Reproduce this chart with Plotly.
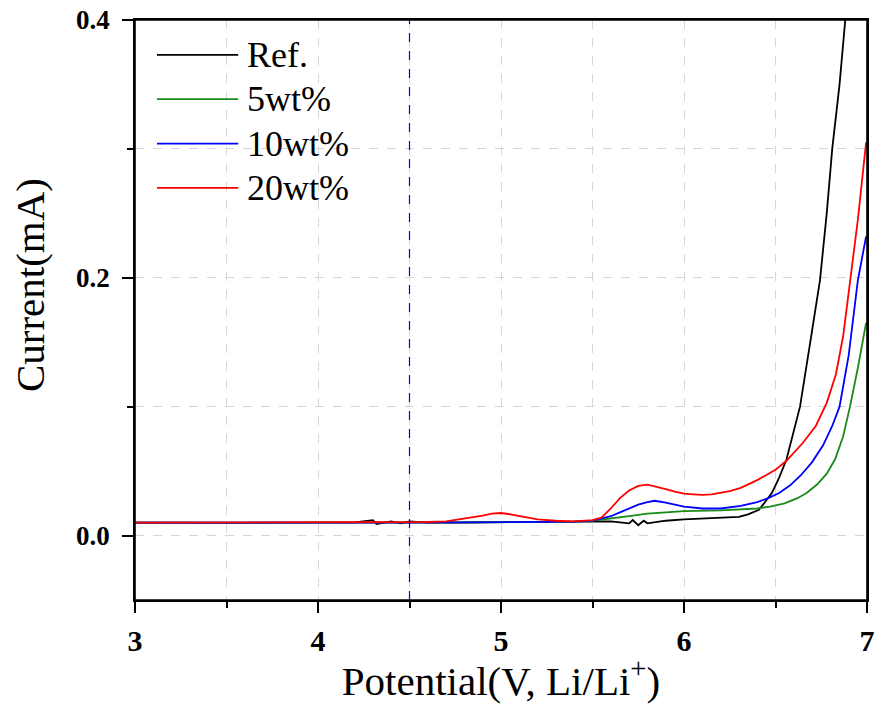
import plotly.graph_objects as go

# ---------------- data ----------------
series_names = ["Ref.", "5wt%", "10wt%", "20wt%"]
series_colors = ["#000000", "#1a8a1a", "#0000ff", "#ff0000"]

ref_v = [3.0, 3.2, 3.4, 3.6, 3.8, 4.0, 4.2, 4.3, 4.32, 4.4, 4.45, 4.5, 4.6, 4.8, 5.0, 5.2,
         5.4, 5.5, 5.6, 5.7, 5.72, 5.75, 5.78, 5.8, 5.85, 5.9, 6.0, 6.1, 6.2, 6.3, 6.35,
         6.41, 6.48, 6.52, 6.56, 6.6, 6.634, 6.69, 6.743, 6.78, 6.81, 6.85, 6.88, 6.9]
ref_i = [0.0100, 0.0098, 0.0101, 0.0099, 0.0100, 0.0099, 0.0102, 0.0120, 0.0090, 0.0110,
         0.0095, 0.0110, 0.0100, 0.0101, 0.0102, 0.0103, 0.0105, 0.0107, 0.0110, 0.0095,
         0.0120, 0.0080, 0.0115, 0.0095, 0.0105, 0.0115, 0.0125, 0.0130, 0.0135, 0.0145,
         0.0165, 0.0200, 0.0330, 0.0450, 0.0590, 0.0800, 0.1000, 0.1500, 0.1980, 0.2500,
         0.3000, 0.3500, 0.4000, 0.4300]

w5_v = [3.0, 3.3, 3.6, 3.9, 4.2, 4.5, 4.8, 5.1, 5.4, 5.5, 5.6, 5.7, 5.8, 5.9, 6.0, 6.2,
        6.3, 6.4, 6.47, 6.55, 6.62, 6.67, 6.73, 6.78, 6.825, 6.87, 6.907, 6.95, 6.995]
w5_i = [0.0100, 0.0099, 0.0101, 0.0100, 0.0100, 0.0101, 0.0102, 0.0104, 0.0108, 0.0115,
        0.0130, 0.0150, 0.0170, 0.0180, 0.0190, 0.0195, 0.0200, 0.0210, 0.0225, 0.0250,
        0.0290, 0.0330, 0.0400, 0.0480, 0.0590, 0.0770, 0.1000, 0.1300, 0.1650]

w10_v = [3.0, 3.3, 3.6, 3.9, 4.2, 4.5, 4.8, 5.1, 5.4, 5.5, 5.55, 5.6, 5.65, 5.7, 5.75,
         5.8, 5.84, 5.9, 5.95, 6.0, 6.1, 6.2, 6.31, 6.4, 6.46, 6.52, 6.58, 6.64, 6.7,
         6.76, 6.81, 6.85, 6.9, 6.95, 6.995]
w10_i = [0.0100, 0.0099, 0.0100, 0.0101, 0.0100, 0.0100, 0.0102, 0.0104, 0.0108, 0.0115,
         0.0130, 0.0150, 0.0180, 0.0210, 0.0240, 0.0260, 0.0270, 0.0255, 0.0240, 0.0225,
         0.0210, 0.0210, 0.0230, 0.0260, 0.0290, 0.0330, 0.0390, 0.0470, 0.0570, 0.0700,
         0.0850, 0.1000, 0.1400, 0.1980, 0.2320]

w20_v = [3.0, 3.3, 3.6, 3.9, 4.2, 4.5, 4.6, 4.7, 4.8, 4.9, 4.95, 5.0, 5.05, 5.1, 5.2,
         5.3, 5.4, 5.5, 5.55, 5.6, 5.65, 5.7, 5.75, 5.8, 5.85, 5.9, 5.95, 6.0, 6.05, 6.1,
         6.15, 6.2, 6.25, 6.31, 6.4, 6.5, 6.56, 6.65, 6.72, 6.78, 6.83, 6.87, 6.907,
         6.95, 6.995]
w20_i = [0.0100, 0.0100, 0.0101, 0.0100, 0.0101, 0.0102, 0.0105, 0.0110, 0.0130, 0.0155,
         0.0170, 0.0175, 0.0165, 0.0150, 0.0125, 0.0115, 0.0110, 0.0120, 0.0140, 0.0210,
         0.0290, 0.0350, 0.0385, 0.0395, 0.0380, 0.0360, 0.0340, 0.0325, 0.0320, 0.0315,
         0.0320, 0.0330, 0.0345, 0.0370, 0.0430, 0.0510, 0.0580, 0.0720, 0.0850, 0.1030,
         0.1250, 0.1550, 0.1980, 0.2450, 0.3050]

marker_v = 4.5  # blue dashed vertical reference line

x_ticks = [3, 4, 5, 6, 7]
y_ticks = [0.0, 0.2, 0.4]

# ---------------- figure ----------------
FONT = "Liberation Serif, Times New Roman, serif"
xs = [ref_v, w5_v, w10_v, w20_v]
ys = [ref_i, w5_i, w10_i, w20_i]

fig = go.Figure()
for name, col, xv, yv in zip(series_names, series_colors, xs, ys):
    fig.add_trace(go.Scatter(x=xv, y=yv, mode="lines", name=name,
                             line=dict(color=col, width=1.8), showlegend=False))

fig.add_vline(x=marker_v, line=dict(color="#0000ff", width=1.2, dash="dash"))

# plot frame (box around the plotting area)
fig.add_shape(type="rect", xref="paper", yref="paper", x0=0, x1=1, y0=0, y1=1,
              line=dict(color="black", width=1.6), fillcolor="rgba(0,0,0,0)",
              layer="above")

# manual legend (long line samples as in the original)
leg_top = 0.940
leg_step = 0.0765
for k, (name, col) in enumerate(zip(series_names, series_colors)):
    yy = leg_top - k * leg_step
    fig.add_shape(type="line", xref="paper", yref="paper",
                  x0=0.030, x1=0.141, y0=yy, y1=yy,
                  line=dict(color=col, width=1.8))
    fig.add_annotation(xref="paper", yref="paper", x=0.150, y=yy,
                       text=name, showarrow=False, xanchor="left", yanchor="middle",
                       font=dict(family=FONT, size=36, color="black"))

# y-axis title (placed slightly above the axis centre, as in the original)
fig.add_annotation(xref="paper", yref="paper", x=-0.1434, y=0.543,
                   text="Current(mA)", textangle=-90, showarrow=False,
                   xanchor="center", yanchor="middle",
                   font=dict(family=FONT, size=41, color="black"))

axis_common = dict(
    showline=True, linecolor="black", linewidth=1.5, mirror=True,
    ticks="outside", ticklen=11, tickwidth=1.5, tickcolor="black",
    showgrid=True, gridcolor="#d6d6d6", griddash="dash", gridwidth=1,
    zeroline=False, automargin=False,
)

fig.update_xaxes(
    range=[3, 7], tickvals=x_ticks, ticktext=[str(v) for v in x_ticks],
    tickfont=dict(family=FONT, size=30, color="black", weight="bold"),
    ticklabelstandoff=2,
    title=dict(text="Potential(V, Li/Li<sup>+</sup>)", standoff=2,
               font=dict(family=FONT, size=41, color="black")),
    minor=dict(dtick=0.5, tick0=3, ticks="outside", ticklen=6, tickcolor="black",
               showgrid=True, gridcolor="#d6d6d6", griddash="dash"),
    **axis_common,
)
fig.update_yaxes(
    range=[-0.05, 0.4], tickvals=y_ticks, ticktext=["%.1f" % v for v in y_ticks],
    tickfont=dict(family=FONT, size=27, color="black", weight="bold"),
    ticklabelstandoff=7,
    minor=dict(dtick=0.1, tick0=0, ticks="outside", ticklen=6, tickcolor="black",
               showgrid=True, gridcolor="#d6d6d6", griddash="dash"),
    **axis_common,
)

fig.update_layout(
    width=876, height=704,
    margin=dict(l=135, r=9, t=20, b=104),
    paper_bgcolor="white", plot_bgcolor="white",
    font=dict(family=FONT, color="black"),
)

# remove the browser's default 8px page margin so the figure fills the window
fig.write_html("out.html",
               config={"displayModeBar": False},
               post_script="document.body.style.margin='0';"
                           "document.body.style.overflow='hidden';")
